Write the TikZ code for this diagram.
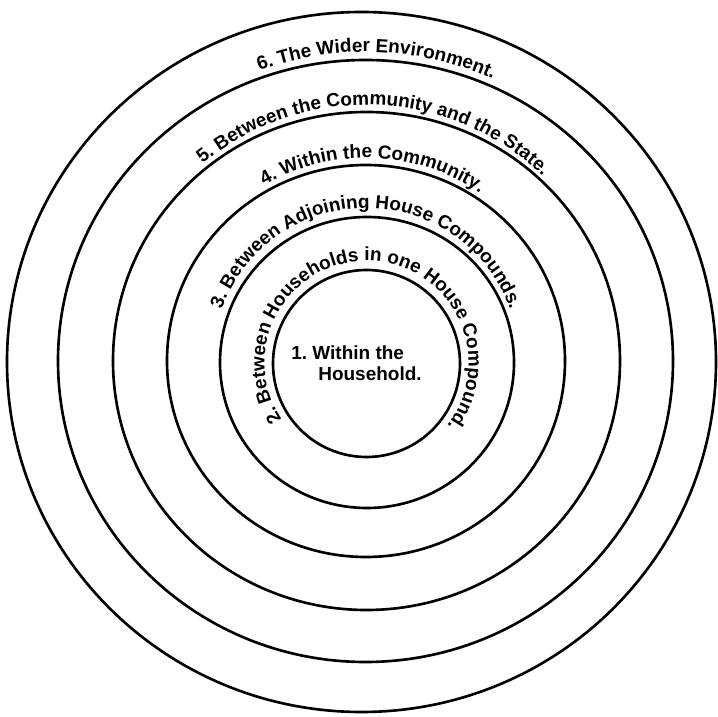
\documentclass[tikz,border=0pt]{standalone}
\usepackage{fontspec}
\setmainfont{Liberation Sans}
\usepackage{tikz}
\usetikzlibrary{decorations.text}

\newcommand{\ringfont}{\fontsize{10.8}{11.95}\selectfont\bfseries}
\frenchspacing

\begin{document}
\begin{tikzpicture}[x=0.02cm, y=0.02cm,
  ring/.style={draw, line width=1.5pt},
  ringtext/.style={decorate, decoration={text along path, text align=center,
                   text={|\ringfont|#1}}}
]
  \useasboundingbox (0,0) rectangle (717,717);
  \coordinate (ctr) at (366,356);
  \coordinate (ctrin) at (366.5,354);

  % rings, outermost first
  \draw[ring] (361.5,355) ellipse [x radius=354.5, y radius=350];
  \draw[ring] (365.5,356) ellipse [x radius=307.5, y radius=301];
  \draw[ring] (366.5,356) ellipse [x radius=253.5, y radius=249];
  \draw[ring] (366,356) ellipse [x radius=199, y radius=196];
  \draw[ring] (367,354.5) ellipse [x radius=147, y radius=145.5];
  \draw[ring] (366.5,353.5) ellipse [x radius=93.5, y radius=93.5];

  % labels along the rings
  \path[ringtext={6. The Wider Environment.}]
    (ctr) ++(263:309) arc[start angle=263, end angle=-87, radius=309];
  \path[ringtext={5. Between the Community and the State.}]
    (ctr) ++(263:256) arc[start angle=263, end angle=-87, radius=256];
  \path[ringtext={4. Within the Community.}]
    (ctr) ++(263:203) arc[start angle=263, end angle=-87, radius=203];
  \path[ringtext={3. Between Adjoining House Compounds.}]
    (ctr) ++(270:153) arc[start angle=270, end angle=-90, radius=153];
  \path[ringtext={2. Between Households in one House Compound.}]
    (ctrin) ++(263:102) arc[start angle=263, end angle=-87, radius=102];

  \node[inner sep=0, anchor=north west, align=left, font=\ringfont] (hh)
    at (291,372) {1. Within the\\\hspace*{0.54cm}Household.};
\end{tikzpicture}
\end{document}
